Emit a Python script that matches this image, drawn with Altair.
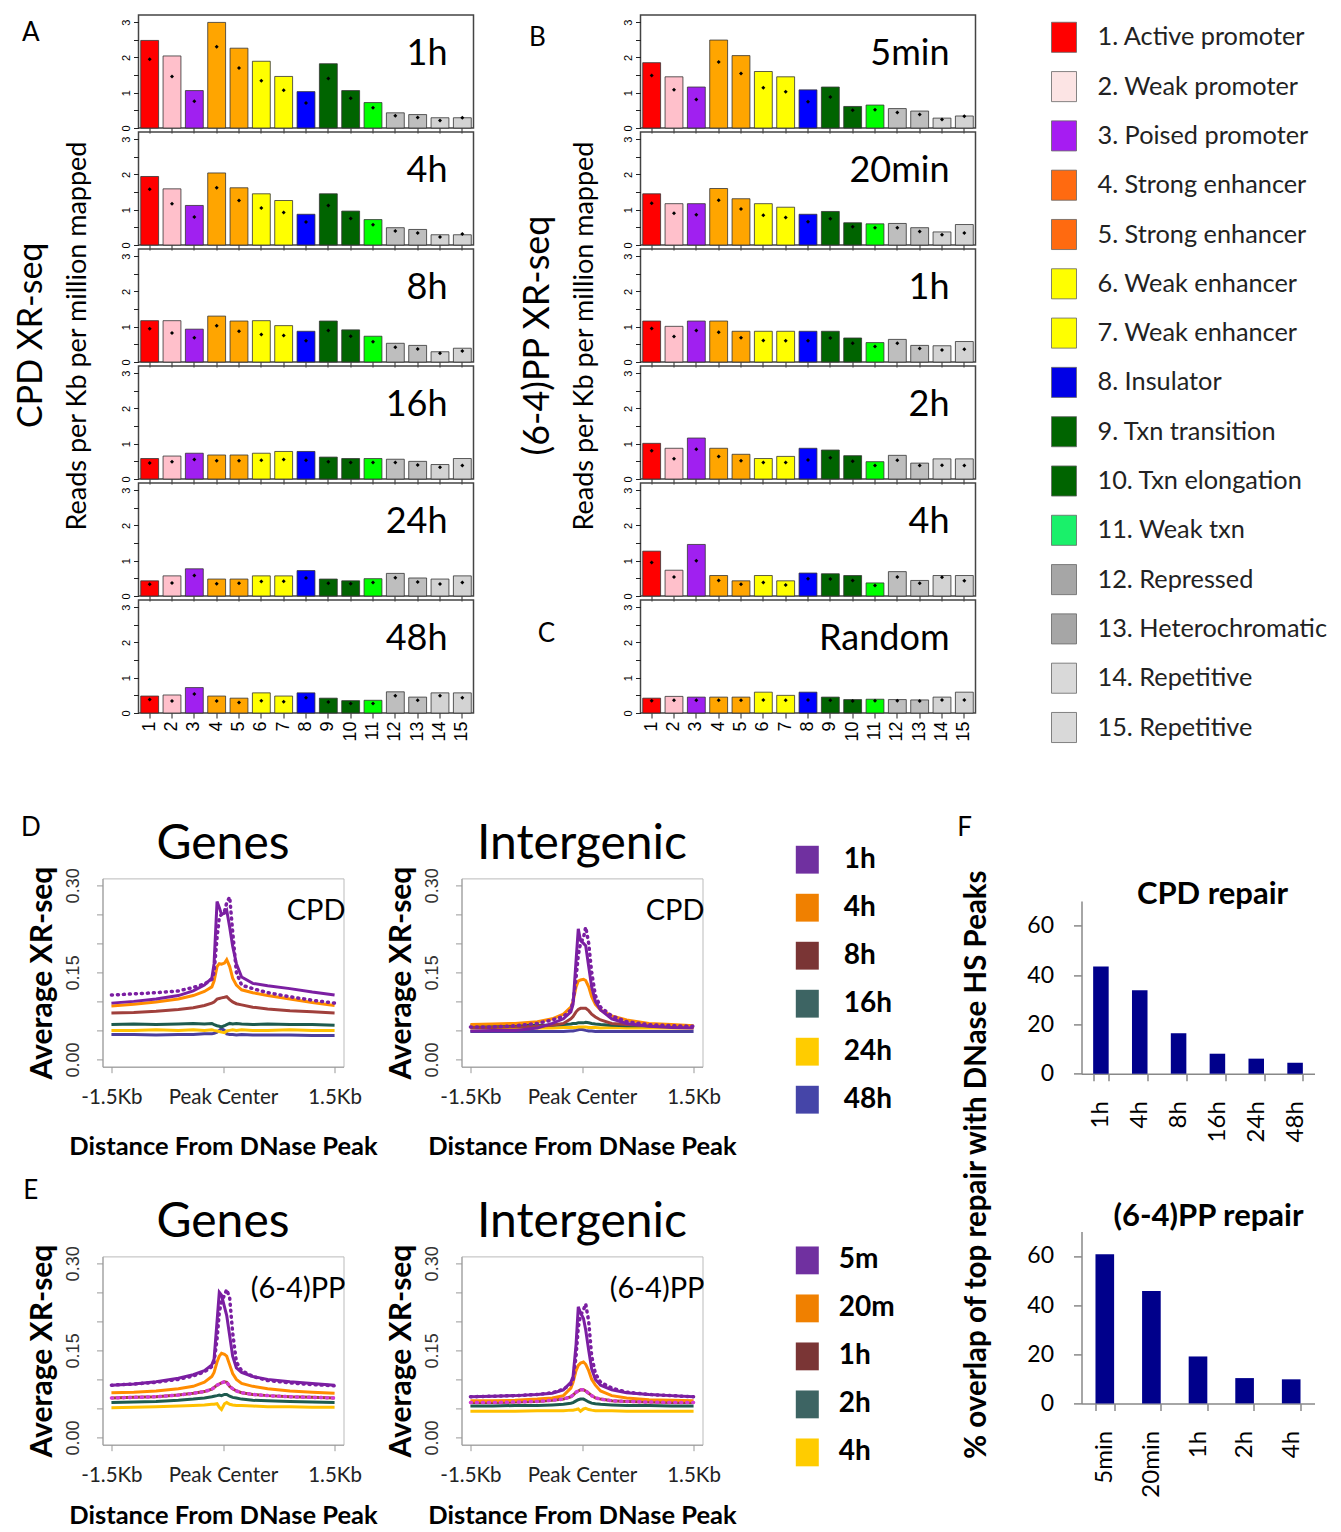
import altair as alt
import pandas as pd

FONT = "Lato"
NUMFONT = "Liberation Sans"

# ---------------- Panel A/B data ----------------
STATES = [str(i) for i in range(1, 16)]
STATE_NAMES = [
    "1. Active promoter", "2. Weak promoter", "3. Poised promoter",
    "4. Strong enhancer", "5. Strong enhancer", "6. Weak enhancer",
    "7. Weak enhancer", "8. Insulator", "9. Txn transition",
    "10. Txn elongation", "11. Weak txn", "12. Repressed",
    "13. Heterochromatic", "14. Repetitive", "15. Repetitive",
]
BAR_COLORS = ["#FF0000", "#FFC0CB", "#A020F0", "#FFA500", "#FFA500", "#FFFF00",
              "#FFFF00", "#0000FF", "#006400", "#006400", "#00FF00", "#BEBEBE",
              "#BEBEBE", "#D3D3D3", "#D3D3D3"]
LEGEND_COLORS = ["#FF0000", "#FCE4E4", "#A61CF2", "#FF6A10", "#FF6A10", "#FFFF00",
                 "#FFFF00", "#0000E6", "#006400", "#006400", "#1AF06A", "#A6A6A6",
                 "#A6A6A6", "#D9D9D9", "#D9D9D9"]

CPD_TIMES = ["1h", "4h", "8h", "16h", "24h", "48h"]
CPD_1H_BAR = [2.48, 2.04, 1.06, 2.99, 2.26, 1.89, 1.46, 1.03, 1.82, 1.06, 0.72, 0.43, 0.38, 0.29, 0.29]
CPD_1H_DOT = [1.95, 1.46, 0.76, 2.30, 1.70, 1.34, 1.07, 0.71, 1.40, 0.84, 0.57, 0.35, 0.30, 0.21, 0.29]
CPD_4H_BAR = [1.94, 1.59, 1.12, 2.04, 1.62, 1.45, 1.26, 0.87, 1.45, 0.96, 0.72, 0.49, 0.44, 0.29, 0.29]
CPD_4H_DOT = [1.58, 1.17, 0.79, 1.62, 1.26, 1.05, 0.92, 0.65, 1.12, 0.75, 0.57, 0.40, 0.34, 0.23, 0.31]
CPD_8H_BAR = [1.17, 1.17, 0.93, 1.30, 1.16, 1.17, 1.03, 0.87, 1.16, 0.91, 0.73, 0.53, 0.47, 0.29, 0.39]
CPD_8H_DOT = [0.94, 0.82, 0.69, 1.03, 0.87, 0.78, 0.75, 0.60, 0.89, 0.73, 0.57, 0.42, 0.37, 0.25, 0.31]
CPD_16H_BAR = [0.58, 0.65, 0.73, 0.68, 0.68, 0.73, 0.78, 0.78, 0.62, 0.58, 0.58, 0.56, 0.50, 0.41, 0.58]
CPD_16H_DOT = [0.45, 0.49, 0.55, 0.52, 0.52, 0.53, 0.55, 0.53, 0.49, 0.47, 0.47, 0.47, 0.40, 0.33, 0.38]
CPD_24H_BAR = [0.43, 0.57, 0.77, 0.48, 0.48, 0.57, 0.57, 0.72, 0.48, 0.43, 0.49, 0.64, 0.51, 0.48, 0.57]
CPD_24H_DOT = [0.33, 0.37, 0.58, 0.35, 0.36, 0.41, 0.42, 0.51, 0.36, 0.35, 0.38, 0.52, 0.40, 0.34, 0.38]
CPD_48H_BAR = [0.48, 0.51, 0.72, 0.48, 0.42, 0.57, 0.48, 0.57, 0.42, 0.35, 0.36, 0.60, 0.45, 0.57, 0.57]
CPD_48H_DOT = [0.38, 0.34, 0.54, 0.34, 0.30, 0.35, 0.32, 0.43, 0.31, 0.27, 0.27, 0.49, 0.36, 0.49, 0.43]

PP_TIMES = ["5min", "20min", "1h", "2h", "4h", "Random"]
PP_5M_BAR = [1.85, 1.45, 1.16, 2.49, 2.05, 1.60, 1.45, 1.08, 1.16, 0.61, 0.65, 0.55, 0.48, 0.28, 0.34]
PP_5M_DOT = [1.49, 1.08, 0.81, 1.87, 1.54, 1.14, 1.03, 0.74, 0.88, 0.50, 0.52, 0.44, 0.38, 0.24, 0.33]
PP_20M_BAR = [1.45, 1.17, 1.17, 1.60, 1.31, 1.17, 1.07, 0.87, 0.95, 0.63, 0.60, 0.61, 0.49, 0.37, 0.58]
PP_20M_DOT = [1.18, 0.90, 0.86, 1.27, 1.02, 0.84, 0.78, 0.66, 0.74, 0.52, 0.49, 0.49, 0.38, 0.29, 0.34]
PP_1H_BAR = [1.16, 1.01, 1.16, 1.16, 0.87, 0.87, 0.87, 0.87, 0.87, 0.68, 0.55, 0.64, 0.47, 0.46, 0.58]
PP_1H_DOT = [0.95, 0.72, 0.89, 0.84, 0.69, 0.61, 0.60, 0.60, 0.68, 0.53, 0.44, 0.53, 0.38, 0.34, 0.36]
PP_2H_BAR = [1.01, 0.87, 1.16, 0.87, 0.70, 0.58, 0.64, 0.87, 0.82, 0.66, 0.49, 0.67, 0.45, 0.57, 0.57]
PP_2H_DOT = [0.80, 0.57, 0.84, 0.64, 0.52, 0.47, 0.47, 0.54, 0.60, 0.50, 0.38, 0.53, 0.38, 0.39, 0.38]
PP_4H_BAR = [1.27, 0.73, 1.46, 0.58, 0.43, 0.58, 0.43, 0.65, 0.63, 0.58, 0.37, 0.69, 0.44, 0.58, 0.58]
PP_4H_DOT = [0.95, 0.54, 1.00, 0.44, 0.33, 0.38, 0.31, 0.49, 0.48, 0.44, 0.30, 0.54, 0.36, 0.53, 0.43]
RANDOM_BAR = [0.42, 0.47, 0.45, 0.45, 0.45, 0.59, 0.50, 0.59, 0.45, 0.38, 0.39, 0.38, 0.37, 0.45, 0.59]
RANDOM_DOT = [0.35, 0.36, 0.36, 0.36, 0.36, 0.37, 0.36, 0.37, 0.36, 0.34, 0.35, 0.35, 0.34, 0.37, 0.37]

# ---------------- Panel D/E data ----------------
KB = [-1.5, -1.2, -0.9, -0.6, -0.4, -0.25, -0.15, -0.12, -0.08, -0.05, -0.02,
      0.02, 0.05, 0.09, 0.13, 0.18, 0.25, 0.4, 0.6, 0.9, 1.2, 1.5]

G_CPD_1H = [0.097, 0.100, 0.104, 0.110, 0.118, 0.128, 0.140, 0.165, 0.272, 0.262, 0.250, 0.252, 0.257, 0.228, 0.195, 0.165, 0.142, 0.131, 0.127, 0.122, 0.116, 0.111]
G_CPD_1H_REP = [0.111, 0.113, 0.115, 0.118, 0.124, 0.130, 0.138, 0.150, 0.210, 0.245, 0.250, 0.255, 0.270, 0.280, 0.220, 0.150, 0.128, 0.122, 0.115, 0.108, 0.102, 0.097]
G_CPD_4H = [0.092, 0.095, 0.099, 0.104, 0.110, 0.117, 0.125, 0.135, 0.160, 0.165, 0.164, 0.166, 0.172, 0.160, 0.140, 0.128, 0.120, 0.115, 0.110, 0.104, 0.098, 0.093]
G_CPD_8H = [0.080, 0.081, 0.083, 0.086, 0.089, 0.093, 0.097, 0.099, 0.104, 0.105, 0.106, 0.107, 0.108, 0.103, 0.099, 0.096, 0.094, 0.090, 0.087, 0.084, 0.082, 0.080]
G_CPD_16H = [0.060, 0.061, 0.060, 0.061, 0.062, 0.061, 0.062, 0.060, 0.058, 0.057, 0.056, 0.058, 0.060, 0.062, 0.061, 0.062, 0.061, 0.060, 0.061, 0.060, 0.060, 0.059]
G_CPD_24H = [0.050, 0.050, 0.051, 0.050, 0.051, 0.050, 0.051, 0.050, 0.049, 0.048, 0.047, 0.046, 0.049, 0.050, 0.051, 0.050, 0.051, 0.050, 0.050, 0.051, 0.050, 0.050]
G_CPD_48H = [0.043, 0.043, 0.042, 0.043, 0.043, 0.044, 0.044, 0.045, 0.047, 0.050, 0.053, 0.050, 0.044, 0.043, 0.043, 0.042, 0.043, 0.042, 0.042, 0.042, 0.041, 0.041]

I_CPD_1H = [0.049, 0.050, 0.050, 0.054, 0.062, 0.070, 0.082, 0.095, 0.170, 0.225, 0.205, 0.200, 0.196, 0.160, 0.125, 0.100, 0.085, 0.070, 0.062, 0.057, 0.055, 0.054]
I_CPD_1H_REP = [0.056, 0.056, 0.058, 0.062, 0.068, 0.074, 0.085, 0.100, 0.140, 0.180, 0.200, 0.210, 0.228, 0.200, 0.150, 0.110, 0.090, 0.075, 0.065, 0.060, 0.058, 0.057]
I_CPD_4H = [0.060, 0.061, 0.062, 0.065, 0.070, 0.078, 0.090, 0.100, 0.125, 0.135, 0.137, 0.138, 0.136, 0.125, 0.108, 0.095, 0.085, 0.075, 0.068, 0.062, 0.060, 0.058]
I_CPD_8H = [0.055, 0.055, 0.056, 0.057, 0.059, 0.062, 0.070, 0.074, 0.082, 0.086, 0.088, 0.088, 0.088, 0.084, 0.078, 0.073, 0.068, 0.062, 0.060, 0.058, 0.057, 0.056]
I_CPD_16H = [0.058, 0.058, 0.058, 0.059, 0.059, 0.060, 0.061, 0.062, 0.062, 0.063, 0.063, 0.063, 0.064, 0.063, 0.062, 0.061, 0.060, 0.059, 0.058, 0.058, 0.058, 0.057]
I_CPD_24H = [0.054, 0.054, 0.055, 0.054, 0.054, 0.055, 0.055, 0.055, 0.055, 0.056, 0.056, 0.056, 0.056, 0.055, 0.055, 0.055, 0.054, 0.055, 0.054, 0.054, 0.054, 0.054]
I_CPD_48H = [0.048, 0.048, 0.048, 0.048, 0.048, 0.048, 0.049, 0.049, 0.050, 0.051, 0.052, 0.051, 0.050, 0.049, 0.049, 0.048, 0.048, 0.048, 0.048, 0.048, 0.048, 0.048]

G_PP_5M = [0.090, 0.092, 0.096, 0.102, 0.108, 0.115, 0.125, 0.135, 0.200, 0.250, 0.245, 0.225, 0.210, 0.175, 0.140, 0.120, 0.112, 0.105, 0.100, 0.096, 0.093, 0.090]
G_PP_5M_REP = [0.090, 0.092, 0.095, 0.100, 0.106, 0.113, 0.122, 0.130, 0.170, 0.215, 0.235, 0.245, 0.255, 0.240, 0.180, 0.130, 0.115, 0.105, 0.098, 0.094, 0.091, 0.089]
G_PP_20M = [0.077, 0.078, 0.080, 0.084, 0.088, 0.095, 0.105, 0.112, 0.130, 0.140, 0.145, 0.143, 0.140, 0.125, 0.110, 0.100, 0.093, 0.088, 0.084, 0.080, 0.078, 0.076]
G_PP_1H = [0.068, 0.069, 0.070, 0.073, 0.076, 0.079, 0.083, 0.086, 0.090, 0.092, 0.094, 0.096, 0.095, 0.088, 0.084, 0.080, 0.077, 0.074, 0.072, 0.070, 0.069, 0.068]
G_PP_2H = [0.060, 0.061, 0.062, 0.064, 0.066, 0.068, 0.070, 0.071, 0.072, 0.073, 0.072, 0.074, 0.074, 0.071, 0.069, 0.068, 0.066, 0.064, 0.063, 0.062, 0.061, 0.060]
G_PP_4H = [0.051, 0.052, 0.053, 0.054, 0.055, 0.056, 0.057, 0.057, 0.058, 0.052, 0.048, 0.058, 0.060, 0.057, 0.056, 0.055, 0.055, 0.054, 0.053, 0.053, 0.052, 0.052]

I_PP_5M = [0.070, 0.071, 0.072, 0.074, 0.076, 0.082, 0.095, 0.105, 0.160, 0.225, 0.215, 0.205, 0.185, 0.150, 0.118, 0.100, 0.090, 0.082, 0.077, 0.074, 0.072, 0.070]
I_PP_5M_REP = [0.070, 0.071, 0.072, 0.074, 0.077, 0.083, 0.092, 0.100, 0.140, 0.190, 0.210, 0.220, 0.230, 0.200, 0.140, 0.110, 0.095, 0.085, 0.078, 0.074, 0.072, 0.070]
I_PP_20M = [0.063, 0.063, 0.064, 0.066, 0.068, 0.072, 0.085, 0.095, 0.115, 0.124, 0.128, 0.130, 0.126, 0.115, 0.100, 0.090, 0.080, 0.072, 0.068, 0.065, 0.064, 0.063]
I_PP_1H = [0.060, 0.060, 0.061, 0.062, 0.064, 0.066, 0.070, 0.073, 0.078, 0.080, 0.082, 0.082, 0.080, 0.076, 0.072, 0.068, 0.066, 0.063, 0.062, 0.061, 0.060, 0.060]
I_PP_2H = [0.054, 0.054, 0.055, 0.055, 0.056, 0.057, 0.059, 0.060, 0.063, 0.065, 0.066, 0.066, 0.064, 0.061, 0.059, 0.058, 0.057, 0.056, 0.055, 0.055, 0.054, 0.054]
I_PP_4H = [0.045, 0.045, 0.045, 0.046, 0.046, 0.046, 0.047, 0.047, 0.048, 0.049, 0.045, 0.049, 0.050, 0.048, 0.047, 0.046, 0.046, 0.046, 0.045, 0.045, 0.045, 0.045]

D_LEGEND = ["1h", "4h", "8h", "16h", "24h", "48h"]
D_LEGEND_COLORS = ["#7030A0", "#F08000", "#7A3535", "#3D6463", "#FFCC00", "#4545A8"]
D_LINE_COLORS = ["#4B3F9E", "#FFC000", "#1E5B4E", "#A0403C", "#FF8C00", "#7B1FA2"]
E_LEGEND = ["5m", "20m", "1h", "2h", "4h"]
E_LEGEND_COLORS = ["#7030A0", "#F08000", "#7A3535", "#3D6463", "#FFCC00"]
E_LINE_COLORS = ["#FFC000", "#1E5B4E", "#A0403C", "#FF8C00", "#7B1FA2"]

# ---------------- Panel F data ----------------
F_CPD_CATS = ["1h", "4h", "8h", "16h", "24h", "48h"]
F_CPD_VALS = [43.5, 33.8, 16.4, 8.1, 6.1, 4.4]
F_PP_CATS = ["5min", "20min", "1h", "2h", "4h"]
F_PP_VALS = [60.7, 45.7, 19.1, 10.3, 9.8]

# ---------------- layout constants ----------------
PW, PH, PSP = 335, 113, 3.3
DW, DH = 241, 188.3
NOSTROKE = alt.ViewBackground(strokeOpacity=0)


def label(text, x, y, size, weight="normal", align="center", angle=0,
          baseline="middle", color="black", font=FONT):
    return alt.Chart(pd.DataFrame({"t": [text]})).mark_text(
        fontSize=size, fontWeight=weight, align=align, baseline=baseline,
        angle=angle, color=color, font=font
    ).encode(x=alt.value(x), y=alt.value(y), text="t:N")


def spacer(w, h):
    return alt.Chart(pd.DataFrame({"t": [""]})).mark_text().encode(text="t:N").properties(
        width=w, height=h, view=NOSTROKE)


def bar_panel(bars, dots, name, bottom, extras=()):
    df = pd.DataFrame({"state": STATES, "value": bars, "dot": dots})
    xenc = alt.X("state:N", sort=STATES, title=None,
                 scale=alt.Scale(domain=STATES, paddingInner=0.2, paddingOuter=0.1),
                 axis=alt.Axis(domain=False, grid=False, ticks=True, tickSize=5,
                               tickColor="#222", labels=bottom, labelAngle=270,
                               labelFontSize=18, labelFont=NUMFONT, labelColor="black",
                               labelPadding=3))
    yaxis = alt.Axis(values=[0, 0.5, 1, 1.5, 2, 2.5, 3],
                     labelExpr="datum.value % 1 == 0 ? format(datum.value, 'd') : ''",
                     labelAngle=270, labelFontSize=11, labelFont=NUMFONT,
                     labelColor="black", domain=False, grid=False, tickSize=5,
                     tickColor="#222", labelPadding=2, labelOverlap=False)
    yscale = alt.Scale(domain=[0, 3.2], nice=False)
    bar = alt.Chart(df).mark_bar(stroke="#333", strokeWidth=0.8).encode(
        x=xenc,
        y=alt.Y("value:Q", title=None, scale=yscale, axis=yaxis),
        color=alt.Color("state:N", scale=alt.Scale(domain=STATES, range=BAR_COLORS), legend=None),
    )
    dot = alt.Chart(df).mark_point(shape="diamond", filled=True, size=16,
                                   color="black", opacity=1).encode(
        x=xenc, y=alt.Y("dot:Q", title=None, scale=yscale, axis=yaxis))
    name_lab = label(name, PW - 26, 50, 36, align="right", baseline="alphabetic")
    return alt.layer(bar, dot, name_lab, *extras).properties(
        width=PW, height=PH, view=alt.ViewBackground(stroke="#444", strokeWidth=1.5))


def profile_panel(names, series, colors, dotted, title, tag, xtitle_pad, extras=()):
    rows = []
    for n, s in zip(names, series):
        for k, v in zip(KB, s):
            rows.append({"kb": k, "v": v, "s": n})
    df = pd.DataFrame(rows)
    xenc = alt.X("kb:Q", scale=alt.Scale(domain=[-1.62, 1.62], nice=False, zero=False),
                 axis=alt.Axis(values=[-1.5, 0, 1.5],
                               labelExpr="datum.value < 0 ? '-1.5Kb' : (datum.value > 0 ? '1.5Kb' : 'Peak Center')",
                               labelFontSize=20.5, labelColor="#222", labelFlush=False,
                               labelOverlap=False, tickSize=6, tickColor="#999",
                               domainColor="#999", grid=False, labelPadding=15,
                               title="Distance From DNase Peak", titleFontSize=25.5,
                               titleFontWeight="bold", titleColor="black",
                               titlePadding=xtitle_pad))
    yenc = alt.Y("v:Q", scale=alt.Scale(domain=[-0.0126, 0.312], nice=False, zero=False),
                 axis=alt.Axis(values=[0, 0.05, 0.1, 0.15, 0.2, 0.25, 0.3],
                               labelExpr="(abs(datum.value) < 0.001 || abs(datum.value - 0.15) < 0.001 || abs(datum.value - 0.3) < 0.001) ? format(datum.value, '.2f') : ''",
                               labelAngle=270, labelFontSize=18, labelFont=NUMFONT,
                               labelColor="#333", labelOverlap=False, tickSize=6,
                               tickColor="#999", domainColor="#999", grid=False,
                               labelPadding=14, title="Average XR-seq", titleFontSize=30,
                               titleFontWeight="bold", titleColor="black", titlePadding=7))
    lines = alt.Chart(df).mark_line(strokeWidth=3).encode(
        x=xenc, y=yenc,
        color=alt.Color("s:N", scale=alt.Scale(domain=names, range=colors), legend=None))
    layers = [lines]
    for vals, col in dotted:
        ddf = pd.DataFrame({"kb": KB, "v": vals})
        layers.append(alt.Chart(ddf).mark_line(strokeWidth=3.5, strokeDash=[1, 5],
                                              strokeCap="round", color=col).encode(x=xenc, y=yenc))
    layers.append(label(title, 120.5, -19, 48, baseline="alphabetic"))
    layers.append(label(tag, 243, 42, 29, align="right", baseline="alphabetic"))
    return alt.layer(*layers, *extras).properties(
        width=DW, height=DH, view=alt.ViewBackground(stroke="#BBBBBB", strokeWidth=1))


def time_legend(labels, colors, rng, text_x):
    df = pd.DataFrame({"t": labels, "c": colors})
    y = alt.Y("t:N", sort=labels, axis=None,
              scale=alt.Scale(domain=labels, range=rng, paddingInner=0.42, paddingOuter=0.21))
    sw = alt.Chart(df).mark_rect().encode(
        x=alt.value(-24.7), x2=alt.value(-1.7), y=y, color=alt.Color("c:N", scale=None))
    tx = alt.Chart(df).mark_text(align="left", fontSize=28, fontWeight="bold", font=FONT).encode(
        x=alt.value(text_x), y=y, text="t:N")
    return alt.layer(sw, tx).properties(width=35, height=DH, view=NOSTROKE)


def f_panel(cats, vals, yrange, axis_offset, extras=()):
    df = pd.DataFrame({"c": cats, "v": vals})
    xenc = alt.X("c:N", sort=cats, title=None,
                 scale=alt.Scale(domain=cats, paddingInner=0.6, paddingOuter=0.3),
                 axis=alt.Axis(tickBand="extent", labelAngle=270, labelFontSize=24,
                               labelColor="black", domainColor="#888", domainWidth=1.5,
                               tickColor="#888", tickWidth=1.5, tickSize=7, labelPadding=20,
                               grid=False, offset=axis_offset))
    yenc = alt.Y("v:Q", title=None, scale=alt.Scale(domain=[0, 70], nice=False, range=yrange),
                 axis=alt.Axis(values=[0, 20, 40, 60], labelFontSize=23, labelColor="black",
                               domainColor="#888", domainWidth=1.5, tickColor="#888",
                               tickWidth=1.5, tickSize=8, labelPadding=20, grid=False))
    bars = alt.Chart(df).mark_bar(color="#00008B").encode(x=xenc, y=yenc)
    return alt.layer(bars, *extras).properties(width=233, height=DH, view=NOSTROKE)


# ---------------- Panel A / B cells ----------------
labelA = alt.layer(
    label("A", -71.7, 18.3, 26),
    label("CPD XR-seq", -70.2, 320.3, 34, angle=270),
    label("Reads per Kb per million mapped", -24.7, 321, 27, angle=270),
).properties(width=35.3, height=PH, view=NOSTROKE)

cpd_bars = [CPD_1H_BAR, CPD_4H_BAR, CPD_8H_BAR, CPD_16H_BAR, CPD_24H_BAR, CPD_48H_BAR]
cpd_dots = [CPD_1H_DOT, CPD_4H_DOT, CPD_8H_DOT, CPD_16H_DOT, CPD_24H_DOT, CPD_48H_DOT]
A_panels = [bar_panel(b, d, t, i == 5) for i, (b, d, t) in
            enumerate(zip(cpd_bars, cpd_dots, CPD_TIMES))]

pp_bars = [PP_5M_BAR, PP_20M_BAR, PP_1H_BAR, PP_2H_BAR, PP_4H_BAR, RANDOM_BAR]
pp_dots = [PP_5M_DOT, PP_20M_DOT, PP_1H_DOT, PP_2H_DOT, PP_4H_DOT, RANDOM_DOT]
b_extras = {
    0: [label("B", -103, 23, 26),
        label("(6-4)PP XR-seq", -103, 320.5, 36, angle=270),
        label("Reads per Kb per million mapped", -56, 321, 27, angle=270)],
    5: [label("C", -94, 34, 26)],
}
B_panels = [bar_panel(b, d, t, i == 5, b_extras.get(i, [])) for i, (b, d, t) in
            enumerate(zip(pp_bars, pp_dots, PP_TIMES))]

# chromatin state legend
leg_df = pd.DataFrame({"name": STATE_NAMES, "color": LEGEND_COLORS})
leg_y = alt.Y("name:N", sort=STATE_NAMES, axis=None,
              scale=alt.Scale(domain=STATE_NAMES, range=[-2.35, 737.15],
                              paddingInner=0.39, paddingOuter=0.195))
leg_sw = alt.Chart(leg_df).mark_rect(stroke="#666", strokeWidth=0.8).encode(
    x=alt.value(0), x2=alt.value(25), y=leg_y, color=alt.Color("color:N", scale=None))
leg_tx = alt.Chart(leg_df).mark_text(align="left", fontSize=25.3, font=FONT, color="#222").encode(
    x=alt.value(46), y=leg_y, text="name:N")
state_legend = alt.layer(leg_sw, leg_tx).properties(width=30, height=PH, view=NOSTROKE)

# ---------------- Panels D / E ----------------
D_NAMES = ["48h", "24h", "16h", "8h", "4h", "1h"]
E_NAMES = ["4h", "2h", "1h", "20m", "5m"]

D_genes = profile_panel(D_NAMES, [G_CPD_48H, G_CPD_24H, G_CPD_16H, G_CPD_8H, G_CPD_4H, G_CPD_1H],
                        D_LINE_COLORS, [(G_CPD_1H_REP, "#7B1FA2")], "Genes", "CPD", 26,
                        [label("D", -71.7, -50, 26)])
D_inter = profile_panel(D_NAMES, [I_CPD_48H, I_CPD_24H, I_CPD_16H, I_CPD_8H, I_CPD_4H, I_CPD_1H],
                        D_LINE_COLORS, [(I_CPD_1H_REP, "#7B1FA2")], "Intergenic", "CPD", 26)
D_leg = time_legend(D_LEGEND, D_LEGEND_COLORS, [-42.7, 245.3], 23.3)

E_genes = profile_panel(E_NAMES, [G_PP_4H, G_PP_2H, G_PP_1H, G_PP_20M, G_PP_5M],
                        E_LINE_COLORS, [(G_PP_1H, "#D63AD6"), (G_PP_5M_REP, "#7B1FA2")],
                        "Genes", "(6-4)PP", 17, [label("E", -71.7, -65, 26)])
E_inter = profile_panel(E_NAMES, [I_PP_4H, I_PP_2H, I_PP_1H, I_PP_20M, I_PP_5M],
                        E_LINE_COLORS, [(I_PP_1H, "#D63AD6"), (I_PP_5M_REP, "#7B1FA2")],
                        "Intergenic", "(6-4)PP", 17)
E_leg = time_legend(E_LEGEND, E_LEGEND_COLORS, [-20, 220], 18.3)

# ---------------- Panel F ----------------
F_cpd = f_panel(F_CPD_CATS, F_CPD_VALS, [195.3, 22.6], 7, [
    label("F", -117, -50.7, 26),
    label("% overlap of top repair  with DNase HS Peaks", -105, 286.3, 29.5,
          weight="bold", angle=270),
    label("CPD repair", 131, 26, 31, weight="bold", baseline="alphabetic"),
])
F_pp = f_panel(F_PP_CATS, F_PP_VALS, [147, -25], -41.3, [
    label("(6-4)PP repair", 127, -30, 31, weight="bold", baseline="alphabetic"),
])

# ---------------- grids ----------------
top_cells = []
for i in range(6):
    top_cells += [labelA if i == 0 else spacer(35.3, PH), A_panels[i], spacer(167, PH),
                  B_panels[i], spacer(76, PH), state_legend if i == 0 else spacer(30, PH)]
    if i < 5:
        top_cells += [spacer(1, PSP) for _ in range(6)]
top_grid = alt.concat(*top_cells, columns=6, spacing=0, bounds="flush",
                      align="each").resolve_scale(color="independent")

bottom_cells = [D_genes, spacer(118, DH), D_inter, spacer(118, DH), D_leg, spacer(225.3, DH), F_cpd]
bottom_cells += [spacer(1, 189) for _ in range(7)]
bottom_cells += [E_genes, spacer(118, DH), E_inter, spacer(118, DH), E_leg, spacer(225.3, DH), F_pp]
bottom_grid = alt.concat(*bottom_cells, columns=7, spacing=0, bounds="flush",
                         align="each").resolve_scale(color="independent")

chart = alt.vconcat(top_grid, bottom_grid, spacing=71.4, bounds="full").resolve_scale(
    color="independent").properties(
    padding={"left": 6.5, "top": 6, "right": 0, "bottom": 0}
).configure(font=FONT).configure_axis(labelFont=FONT, titleFont=FONT)

chart.save("out.html", embed_options={"renderer": "svg", "actions": False})
